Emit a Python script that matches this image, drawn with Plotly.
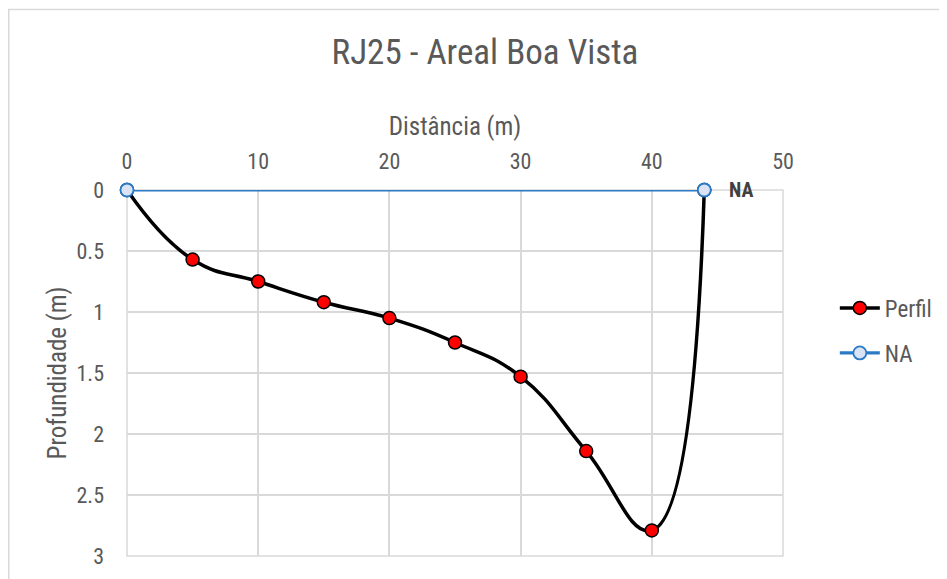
import plotly.graph_objects as go

# Data
perfil_x = [0, 5, 10, 15, 20, 25, 30, 35, 40, 44]
perfil_y = [0, 0.57, 0.75, 0.92, 1.05, 1.25, 1.53, 2.14, 2.79, 0]
na_x = [0, 44]
na_y = [0, 0]
na_label = "NA"

FONT = "Roboto Condensed, Liberation Sans Narrow, Arial Narrow, sans-serif"
GREY = "#595959"
GRID = "#d9d9d9"
BLUE = "#2a7ac6"

# page body has an 8px offset; plot area in the screenshot is x 127..783, y 190..556
L, T, PW, PH = 119, 182, 656, 366
W, H = 947, 579

fig = go.Figure()

fig.add_trace(go.Scatter(
    x=perfil_x, y=perfil_y, name="Perfil", mode="lines+markers", legendgroup="a",
    line=dict(color="black", width=3.5, shape="spline", smoothing=1.3),
    marker=dict(size=13, color="#ff0000", line=dict(color="black", width=1.5)),
    cliponaxis=False,
))
fig.add_trace(go.Scatter(
    x=na_x, y=na_y, name="NA", mode="lines+markers", legendgroup="b",
    line=dict(color=BLUE, width=3.2),
    marker=dict(size=13, color="#dae3f3", line=dict(color=BLUE, width=1.8)),
    cliponaxis=False,
))

fig.add_annotation(
    x=na_x[-1], y=na_y[-1], text="<b>" + na_label + "</b>", showarrow=False,
    xanchor="left", yanchor="middle", xshift=23,
    font=dict(family=FONT, size=20, color="#404040"),
)

fig.update_layout(
    width=W, height=H,
    margin=dict(l=L, r=W - L - PW, t=T, b=H - T - PH),
    paper_bgcolor="white", plot_bgcolor="white",
    font=dict(family=FONT, color=GREY),
    title=dict(text="RJ25 - Areal Boa Vista", x=0.5037, xanchor="center",
               y=0.925, yanchor="middle",
               font=dict(family=FONT, size=35, color=GREY)),
    legend=dict(x=1.079, y=0.616, xanchor="left", yanchor="middle",
                font=dict(family=FONT, size=23, color=GREY),
                tracegroupgap=12, itemwidth=40),
    showlegend=True,
)

fig.update_xaxes(
    side="top", range=[0, 50], dtick=10, showgrid=True, gridcolor=GRID, gridwidth=1.5,
    zeroline=False, showline=False, ticks="", ticklabelstandoff=16, automargin=False,
    tickfont=dict(family=FONT, size=22, color=GREY),
    title=dict(text="Distância (m)", font=dict(family=FONT, size=25, color=GREY), standoff=5),
)
fig.update_yaxes(
    range=[3, 0], dtick=0.5, showgrid=True, gridcolor=GRID, gridwidth=1.5,
    zeroline=False, showline=False, ticks="", ticklabelstandoff=22, automargin=False,
    tickfont=dict(family=FONT, size=22, color=GREY),
    title=dict(text="Profundidade (m)", font=dict(family=FONT, size=25, color=GREY), standoff=2),
)

# plot-area frame (gridlines at the range edges)
fig.add_shape(type="rect", xref="x domain", yref="y domain",
              x0=0, x1=1, y0=0, y1=1,
              line=dict(color=GRID, width=1.5), layer="below")

# outer chart border
fig.add_shape(type="rect", xref="paper", yref="paper",
              x0=(0.75 - L) / PW, x1=1.5, y0=-0.3, y1=(T + PH - 1.5) / PH,
              line=dict(color=GRID, width=1.5), layer="below")

fig.write_html("out.html")
